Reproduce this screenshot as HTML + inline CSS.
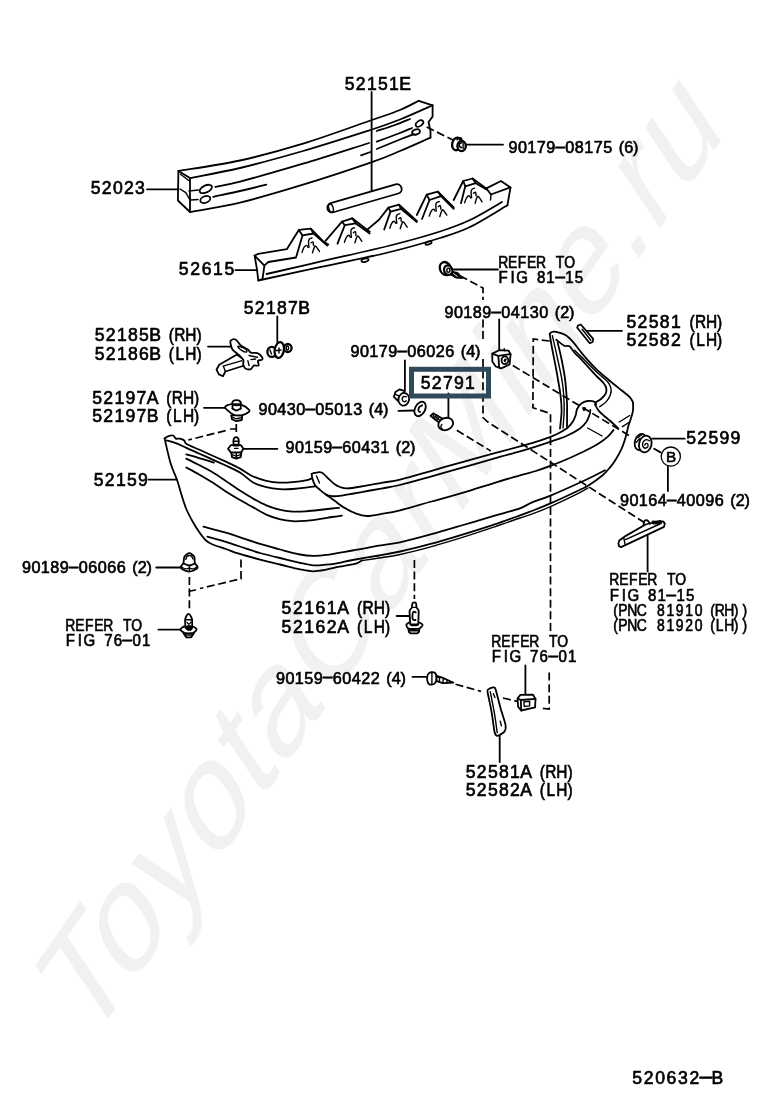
<!DOCTYPE html>
<html><head><meta charset="utf-8"><title>520632-B</title>
<style>
html,body{margin:0;padding:0;background:#fff}
svg{display:block}
.l{fill:none;stroke:#000;stroke-width:1.8;stroke-linecap:round;stroke-linejoin:round}
.lt{fill:none;stroke:#000;stroke-width:1.4;stroke-linecap:round;stroke-linejoin:round}
.f{fill:#fff;stroke:#000;stroke-width:1.8;stroke-linecap:round;stroke-linejoin:round}
.fh{fill:#fff;stroke:#000;stroke-width:2.3;stroke-linejoin:round}
.k{fill:#000;stroke:#000;stroke-width:1;stroke-linejoin:round}
.d{fill:none;stroke:#000;stroke-width:1.7;stroke-dasharray:8 3.6}
text{font-family:"Liberation Sans",sans-serif;fill:#000;white-space:pre}
.b,.s{stroke:#000;stroke-width:0.65px}
.b{font-size:17.6px}
.s{font-size:16.2px}
.wm{font-size:112px;fill:#f1f1f1}
.box{fill:none;stroke:#2f4a5b;stroke-width:5}
</style></head><body>
<svg width="760" height="1112" viewBox="0 0 760 1112">
<rect width="760" height="1112" fill="#fff"/>
<text class="wm" transform="scale(1,1.463) translate(87.3,716.6) rotate(-44.4)" textLength="894" lengthAdjust="spacing">ToyotaCarMine.ru</text>
<path class="l" d="M178.4 171.0 C188.7 169.2 219.2 165.1 240.0 160.5 C260.8 155.9 281.2 150.4 303.0 143.7 C324.8 137.0 354.3 126.1 370.5 120.5 C386.7 114.9 392.0 113.3 400.0 110.0 C408.0 106.7 415.6 102.3 418.7 100.8"/>
<path class="l" d="M190.0 178.0 C198.3 176.3 221.2 172.5 240.0 168.0 C258.8 163.5 281.2 157.3 303.0 151.0 C324.8 144.7 354.3 135.2 370.5 130.0 C386.7 124.8 389.6 123.6 400.0 119.5 C410.4 115.4 427.2 107.7 432.6 105.3"/>
<path class="l" d="M190.0 212.0 C198.3 210.4 221.2 207.2 240.0 202.6 C258.8 198.0 281.2 191.4 303.0 184.7 C324.8 178.0 354.3 168.2 370.5 162.6 C386.7 157.0 390.0 155.2 400.0 151.0 C410.0 146.8 425.4 139.8 430.5 137.6"/>
<path class="l" d="M190.0 178.0 L178.4 171.0 L177.9 200.5 L190.0 212.0 L190.0 178.0"/>
<path class="lt" d="M180.5 174.2 L189.5 181.0"/>
<path class="lt" d="M180.0 189.0 L185.8 192.6 L190.0 200.0"/>
<path class="l" d="M418.7 100.8 L432.6 105.3 L432.6 116.6 L428.5 122.0 L430.5 131.0 L430.5 137.6"/>
<path class="lt" d="M189.0 191.0 L198.4 190.0"/>
<path class="l" d="M215.3 186.8 C219.4 185.9 225.4 185.4 240.0 181.6 C254.6 177.8 281.5 170.1 303.0 163.7 C324.5 157.3 358.0 146.4 369.0 143.0"/>
<path class="l" d="M376.8 141.6 C380.7 140.2 394.1 135.3 400.0 133.0 C405.9 130.7 410.0 128.8 412.0 128.0"/>
<path class="lt" d="M191.0 200.0 L198.0 199.5"/>
<path class="l" d="M213.2 196.8 C217.7 195.8 231.2 193.0 240.0 191.0 C248.8 189.0 261.9 185.8 266.3 184.7"/>
<path class="l" d="M376.8 149.0 C380.7 147.4 393.8 142.0 400.0 139.5 C406.2 137.0 411.7 134.9 414.0 134.0"/>
<path class="l" d="M361.0 155.3 L370.5 152.0"/>
<path class="l" d="M376.8 131.0 C379.8 130.0 389.5 127.0 395.0 125.0 C400.5 123.0 407.5 120.0 410.0 119.0"/>
<ellipse class="l" cx="205.8" cy="189" rx="6.6" ry="3.5" transform="rotate(-25 205.8 189)"/>
<ellipse class="l" cx="205.3" cy="199.5" rx="5.2" ry="3.2" transform="rotate(-22 205.3 199.5)"/>
<ellipse class="l" cx="419.5" cy="123.5" rx="4.2" ry="2.6" transform="rotate(-35 419.5 123.5)"/>
<ellipse class="l" cx="416" cy="132" rx="4" ry="2.6" transform="rotate(-20 416 132)"/>
<path class="l" d="M147.0 189.3 L178.0 189.3"/>
<path class="l" d="M371.6 92.0 L371.6 192.0"/>
<g transform="rotate(-16.1 364 198.5)"><rect class="f" x="326" y="193.8" width="77" height="9.4" rx="4.7"/><ellipse class="lt" cx="329.6" cy="198.5" rx="2.2" ry="4.2"/></g>
<path class="l" d="M466.0 144.7 L503.0 144.7"/>
<path class="d" d="M426.6 127.0 L453.0 140.0"/>
<g><ellipse class="fh" cx="456.6" cy="143.9" rx="4.4" ry="6.4" transform="rotate(12 456.6 143.9)"/><path class="l" d="M457.2 139.6 C457.6 139.3 458.5 138.2 459.2 138.0 C459.9 137.9 461.2 138.2 461.6 138.8 C461.9 139.5 461.2 141.4 461.2 142.0"/><ellipse class="fh" cx="461.6" cy="146.0" rx="4.2" ry="5.1"/><path class="l" d="M461.2 142.8 C460.9 142.9 459.9 143.0 459.6 143.5 C459.3 144.1 459.1 145.7 459.4 146.3 C459.6 147.0 460.9 147.3 461.2 147.5"/><path class="lt" d="M463.1 142.0 L463.1 148.7"/></g>
<path class="l" d="M254.6 255.6 L258.3 253.8 L286.8 249.2 L298.8 229.9 L310.8 228.6 L323.7 241.8 L328.3 244.6"/>
<path class="l" d="M325.5 240.9 L342.0 221.6 L352.2 218.3 L369.7 231.7"/>
<path class="l" d="M367.0 229.9 L379.0 219.7 L388.4 207.6 L399.0 204.6 L416.8 221.0"/>
<path class="l" d="M416.8 215.0 L426.7 194.7 L437.9 191.6 L453.7 207.4"/>
<path class="l" d="M453.7 200.0 L463.2 181.0 L472.6 178.5 L486.3 188.4 L501.0 181.0 L510.5 187.4 L507.4 205.3"/>
<path class="l" d="M254.6 255.6 L264.4 265.6 L262.5 279.0 L258.3 280.5 L257.0 269.5 L254.6 255.6"/>
<path class="l" d="M264.4 265.4 L268.4 262.0 L296.0 257.5 L302.5 235.4"/>
<path class="l" d="M298.8 229.9 L302.5 235.4 L313.5 233.5 L310.8 228.6"/>
<path class="l" d="M313.5 233.5 L327.3 245.5"/>
<path class="lt" d="M302.0 252.4 C302.3 251.6 303.2 248.6 304.0 247.4 C304.8 246.3 305.8 245.4 306.5 245.4 C307.2 245.4 307.8 247.1 308.0 247.4"/>
<path class="lt" d="M312.5 252.9 C312.8 251.9 313.9 248.0 314.5 246.9 C315.1 245.9 315.2 245.7 316.0 246.4 C316.8 247.2 318.9 250.6 319.5 251.4"/>
<path class="lt" d="M309.0 247.4 C308.9 246.4 308.4 242.9 308.5 241.4 C308.6 240.0 308.9 239.5 309.5 238.9 C310.1 238.4 311.6 238.1 312.0 237.9"/>
<path class="lt" d="M311.0 242.9 C311.3 242.8 312.6 241.5 313.0 241.9 C313.4 242.4 313.4 244.9 313.5 245.4"/>
<path class="l" d="M342.0 221.6 L344.8 225.2 L355.9 223.4 L352.2 218.3"/>
<path class="l" d="M344.8 225.2 L337.5 243.7"/>
<path class="l" d="M355.9 223.4 L369.7 233.5"/>
<path class="lt" d="M344.4 242.3 C344.7 241.5 345.6 238.5 346.4 237.3 C347.1 236.1 348.2 235.3 348.9 235.3 C349.5 235.3 350.1 237.0 350.4 237.3"/>
<path class="lt" d="M354.9 242.8 C355.2 241.8 356.3 237.9 356.9 236.8 C357.4 235.7 357.5 235.6 358.4 236.3 C359.2 237.1 361.3 240.5 361.9 241.3"/>
<path class="lt" d="M351.4 237.3 C351.3 236.3 350.8 232.7 350.9 231.3 C350.9 229.9 351.3 229.4 351.9 228.8 C352.4 228.2 353.9 228.0 354.4 227.8"/>
<path class="lt" d="M353.4 232.8 C353.7 232.6 354.9 231.4 355.4 231.8 C355.8 232.2 355.8 234.7 355.9 235.3"/>
<path class="l" d="M388.4 207.6 L390.5 211.6 L401.0 208.8 L399.0 204.6"/>
<path class="l" d="M390.5 211.6 L384.2 229.5"/>
<path class="l" d="M401.0 208.8 L416.8 222.0"/>
<path class="lt" d="M389.8 228.2 C390.1 227.4 391.0 224.4 391.8 223.2 C392.5 222.0 393.6 221.2 394.2 221.2 C394.9 221.2 395.5 222.9 395.8 223.2"/>
<path class="lt" d="M400.2 228.7 C400.6 227.7 401.7 223.8 402.2 222.7 C402.8 221.6 402.9 221.4 403.8 222.2 C404.6 222.9 406.7 226.4 407.2 227.2"/>
<path class="lt" d="M396.8 223.2 C396.7 222.2 396.2 218.6 396.2 217.2 C396.3 215.8 396.7 215.3 397.2 214.7 C397.8 214.1 399.3 213.9 399.8 213.7"/>
<path class="lt" d="M398.8 218.7 C399.1 218.5 400.3 217.3 400.8 217.7 C401.2 218.1 401.2 220.6 401.2 221.2"/>
<path class="l" d="M426.7 194.7 L429.5 200.0 L441.0 196.2 L437.9 191.6"/>
<path class="l" d="M429.5 200.0 L422.0 219.0"/>
<path class="l" d="M441.0 196.2 L453.7 208.8"/>
<path class="lt" d="M429.2 216.1 C429.6 215.3 430.5 212.3 431.2 211.1 C432.0 209.9 433.1 209.1 433.8 209.1 C434.4 209.1 435.0 210.8 435.2 211.1"/>
<path class="lt" d="M439.8 216.6 C440.1 215.6 441.2 211.7 441.8 210.6 C442.3 209.5 442.4 209.3 443.2 210.1 C444.1 210.8 446.2 214.3 446.8 215.1"/>
<path class="lt" d="M436.2 211.1 C436.2 210.1 435.7 206.5 435.8 205.1 C435.8 203.7 436.2 203.2 436.8 202.6 C437.3 202.0 438.8 201.8 439.2 201.6"/>
<path class="lt" d="M438.2 206.6 C438.6 206.4 439.8 205.2 440.2 205.6 C440.7 206.0 440.7 208.5 440.8 209.1"/>
<path class="l" d="M463.2 181.0 L465.3 186.3 L475.8 183.2 L472.6 178.5"/>
<path class="l" d="M465.3 186.3 L461.0 203.2"/>
<path class="l" d="M475.8 183.2 L486.3 189.5"/>
<path class="lt" d="M464.6 202.8 C464.9 201.9 465.8 198.9 466.6 197.8 C467.3 196.6 468.4 195.8 469.1 195.8 C469.7 195.8 470.3 197.4 470.6 197.8"/>
<path class="lt" d="M475.1 203.2 C475.4 202.2 476.5 198.3 477.1 197.2 C477.6 196.2 477.7 196.0 478.6 196.8 C479.4 197.5 481.5 200.9 482.1 201.8"/>
<path class="lt" d="M471.6 197.8 C471.5 196.8 471.0 193.2 471.1 191.8 C471.1 190.3 471.5 189.8 472.1 189.2 C472.6 188.7 474.1 188.4 474.6 188.2"/>
<path class="lt" d="M473.6 193.2 C473.9 193.1 475.1 191.8 475.6 192.2 C476.0 192.7 476.0 195.2 476.1 195.8"/>
<path class="l" d="M486.3 188.4 L491.0 194.5 L510.5 187.4"/>
<path class="lt" d="M491.0 194.5 L490.5 200.0"/>
<path class="l" d="M266.6 274.0 C275.5 271.9 299.4 266.4 320.0 261.7 C340.6 256.9 370.0 250.5 390.0 245.5 C410.0 240.5 426.7 235.8 440.0 231.5 C453.3 227.2 459.7 224.9 470.0 220.0 C480.3 215.1 496.7 205.0 502.0 202.0"/>
<path class="l" d="M258.3 280.5 C268.6 278.3 298.1 271.9 320.0 267.1 C341.9 262.4 370.0 256.9 390.0 252.0 C410.0 247.2 426.7 242.2 440.0 238.0 C453.3 233.8 458.8 232.4 470.0 227.0 C481.2 221.6 501.2 208.9 507.4 205.3"/>
<path class="l" d="M235.5 270.2 L256.5 270.2"/>
<ellipse class="l" cx="365" cy="260.3" rx="3.6" ry="1.6" transform="rotate(-12 365 260.3)"/>
<ellipse class="l" cx="428.5" cy="243" rx="3.2" ry="1.5" transform="rotate(-17 428.5 243)"/>
<path class="l" d="M453.7 269.5 L498.0 269.5"/>
<path class="d" d="M460.0 275.8 L483.0 288.0 L483.0 300.0"/>
<path class="d" d="M483.0 319.5 L483.0 339.5"/>
<path class="d" d="M483.0 359.0 L483.0 417.5 L487.5 421.8 L645.0 523.0"/>
<g><path class="k" d="M450.9 271.3 L458.0 272.5 L462.8 278.4 L456.0 278.0 L450.1 274.5Z"/><path class="lt" d="M453.7 273.7 L457.2 276.4" style="stroke:#fff;stroke-width:1"/><ellipse class="fh" cx="445.4" cy="268.6" rx="5.4" ry="6.8" transform="rotate(-25 445.4 268.6)"/><ellipse class="fh" cx="448.2" cy="270.2" rx="4.0" ry="4.8" transform="rotate(-25 448.2 270.2)"/><ellipse class="lt" cx="448.4" cy="270.3" rx="1.6" ry="2.0"/></g>
<path class="l" d="M164.6 438.6 C165.6 442.7 168.4 456.0 170.5 462.9 C172.6 469.8 175.3 474.9 177.1 480.0 C178.8 485.1 179.5 488.4 181.0 493.2 C182.5 498.0 184.3 504.2 186.3 509.0 C188.3 513.8 190.7 518.1 192.9 522.0 C195.1 525.9 197.3 529.5 199.5 532.6 C201.7 535.7 203.8 538.5 206.0 540.5 C208.2 542.5 209.3 543.1 212.6 544.5 C215.9 545.9 221.4 547.5 225.8 549.0 C230.2 550.5 233.3 551.9 239.0 553.7 C244.7 555.5 253.2 557.8 260.0 559.6 C266.8 561.4 273.3 562.9 280.0 564.5 C286.7 566.1 294.5 568.2 300.0 569.3 C305.5 570.4 308.8 571.2 313.2 571.3 C317.6 571.3 321.9 570.4 326.3 569.6 C330.7 568.8 334.4 567.7 339.5 566.7 C344.6 565.7 352.9 564.5 356.6 563.4 C360.3 562.3 360.9 560.8 361.8 560.3"/>
<path class="lt" d="M361.8 560.6 C364.7 560.2 372.6 559.0 379.0 558.0 C385.4 557.0 391.2 556.4 400.0 554.5 C408.8 552.6 421.1 549.5 431.6 546.6 C442.1 543.7 452.7 540.5 463.2 537.2 C473.7 533.9 485.2 530.0 494.7 526.8 C504.2 523.6 513.9 520.1 520.0 518.0 C526.1 515.9 526.5 516.1 531.6 514.2 C536.7 512.3 543.1 509.9 550.5 506.6 C557.9 503.4 569.5 497.8 575.8 494.7 C582.0 491.6 586.0 489.1 588.0 488.0"/>
<path class="l" d="M300.0 562.8 C302.2 563.2 308.8 565.1 313.2 565.4 C317.6 565.7 321.9 565.1 326.3 564.7 C330.7 564.3 335.1 563.6 339.5 562.8 C343.9 562.0 346.0 561.2 352.6 560.0 C359.2 558.8 371.1 556.9 379.0 555.5 C386.9 554.1 391.2 553.5 400.0 551.5 C408.8 549.5 421.1 546.6 431.6 543.7 C442.1 540.9 452.7 537.6 463.2 534.4 C473.7 531.2 485.2 527.6 494.7 524.4 C504.2 521.2 513.9 517.6 520.0 515.4 C526.1 513.2 526.5 513.0 531.6 511.0 C536.7 509.0 542.6 506.9 550.5 503.4 C558.4 499.9 572.7 493.2 579.0 490.2 C585.3 487.2 584.5 488.1 588.4 485.6 C592.3 483.1 598.9 478.3 602.6 475.2 C606.3 472.1 608.4 469.3 610.5 466.8 C612.6 464.3 613.4 463.4 615.3 460.3 C617.2 457.2 620.0 452.3 621.8 448.4 C623.5 444.4 624.7 440.3 625.8 436.6 C626.9 432.9 627.5 429.1 628.4 426.0 C629.3 422.9 630.2 420.8 631.0 418.2 C631.8 415.6 632.7 412.9 633.0 410.3 C633.3 407.7 633.0 403.7 633.0 402.4"/>
<path class="l" d="M207.4 536.6 C210.5 537.5 219.5 539.8 225.8 541.8 C232.2 543.8 239.8 546.5 245.5 548.4 C251.2 550.3 254.2 551.4 260.0 553.0 C265.8 554.6 273.3 556.4 280.0 558.0 C286.7 559.6 296.7 562.0 300.0 562.8"/>
<path class="l" d="M203.4 526.7 C207.1 527.7 218.8 530.5 225.8 532.6 C232.8 534.7 239.8 537.3 245.5 539.2 C251.2 541.1 254.2 542.1 260.0 543.8 C265.8 545.5 273.3 547.7 280.0 549.5 C286.7 551.3 294.5 553.5 300.0 554.5 C305.5 555.5 308.8 555.7 313.2 555.8 C317.6 555.9 319.7 555.8 326.3 554.9 C332.9 554.0 343.8 552.0 352.6 550.5 C361.4 549.0 371.1 547.1 379.0 545.7 C386.9 544.3 391.2 544.2 400.0 542.3 C408.8 540.4 421.1 537.1 431.6 534.2 C442.1 531.3 452.7 528.1 463.2 525.0 C473.7 521.9 485.2 518.4 494.7 515.6 C504.2 512.8 513.9 510.5 520.0 508.3 C526.1 506.1 526.5 504.7 531.6 502.6 C536.7 500.5 542.6 498.9 550.5 495.6 C558.4 492.3 571.6 486.4 579.0 483.0 C586.4 479.6 590.4 477.6 594.7 475.5 C599.0 473.4 603.3 471.2 605.0 470.3"/>
<path class="l" d="M164.6 438.6 C165.2 438.2 166.5 436.8 167.9 436.3 C169.3 435.8 171.9 435.1 173.2 435.5 C174.5 435.9 174.7 438.1 175.8 438.6 C176.9 439.1 178.3 438.3 179.7 438.6 C181.1 438.9 183.2 439.6 184.3 440.5 C185.4 441.4 183.8 442.2 186.3 443.8 C188.8 445.4 195.1 447.8 199.5 449.8 C203.9 451.8 208.2 453.7 212.6 455.7 C217.0 457.7 221.2 459.5 225.8 461.6 C230.4 463.8 235.4 466.1 240.0 468.6 C244.6 471.1 248.8 474.5 253.2 476.5 C257.6 478.5 261.9 479.8 266.3 480.8 C270.7 481.8 275.1 482.4 279.5 482.6 C283.9 482.8 288.2 482.5 292.6 482.1 C297.0 481.7 302.6 481.0 305.8 480.4 C309.0 479.8 310.7 478.7 311.7 478.4"/>
<path class="l" d="M166.6 440.5 C168.1 440.9 172.5 442.0 175.8 443.2 C179.1 444.4 182.4 446.1 186.3 447.8 C190.2 449.6 195.1 451.7 199.5 453.7 C203.9 455.7 208.2 457.6 212.6 459.6 C217.0 461.6 221.2 463.4 225.8 465.5 C230.4 467.6 235.4 469.7 240.0 472.5 C244.6 475.3 248.8 480.1 253.2 482.5 C257.6 484.9 261.9 486.1 266.3 487.2 C270.7 488.3 275.1 488.9 279.5 489.2 C283.9 489.5 288.2 489.3 292.6 489.0 C297.0 488.7 302.1 488.1 305.8 487.6 C309.5 487.2 313.5 486.5 315.0 486.3"/>
<path class="l" d="M186.3 454.3 C188.6 455.0 195.4 456.9 200.0 458.3 C204.6 459.7 211.7 461.9 214.0 462.6"/>
<path class="l" d="M186.3 458.6 C188.5 459.7 195.1 462.9 199.5 465.2 C203.9 467.5 208.2 469.7 212.6 472.3 C217.0 474.9 221.2 477.9 225.8 481.0 C230.4 484.1 235.4 487.7 240.0 490.6 C244.6 493.5 248.8 496.2 253.2 498.6 C257.6 501.1 261.9 503.5 266.3 505.3 C270.7 507.1 275.1 508.6 279.5 509.7 C283.9 510.8 288.2 511.3 292.6 511.6 C297.0 511.9 301.4 511.6 305.8 511.3 C310.2 511.0 314.6 510.5 319.0 510.0 C323.4 509.5 328.6 508.9 332.0 508.5 C335.4 508.1 338.0 507.9 339.2 507.8"/>
<path class="l" d="M186.3 467.5 C188.5 468.7 195.1 472.2 199.5 474.7 C203.9 477.2 208.2 479.8 212.6 482.6 C217.0 485.4 221.2 488.6 225.8 491.5 C230.4 494.4 235.4 497.4 240.0 500.0 C244.6 502.6 248.8 505.0 253.2 507.4 C257.6 509.8 261.9 512.6 266.3 514.6 C270.7 516.6 275.1 518.1 279.5 519.2 C283.9 520.3 288.2 520.9 292.6 521.2 C297.0 521.5 301.4 521.1 305.8 520.8 C310.2 520.5 314.6 519.8 319.0 519.2 C323.4 518.6 328.2 517.6 332.0 517.0 C335.8 516.4 340.2 515.9 341.8 515.7"/>
<path class="l" d="M311.7 473.8 C312.2 473.6 313.4 473.1 315.0 472.9 C316.6 472.7 319.2 471.4 321.6 472.5 C324.0 473.6 327.3 477.7 329.5 479.7 C331.7 481.7 332.9 483.1 334.7 484.3 C336.4 485.5 337.9 486.3 340.0 487.0 C342.1 487.7 343.3 488.5 347.1 488.4 C350.9 488.3 357.0 487.2 362.9 486.2 C368.8 485.2 376.4 483.7 382.6 482.6 C388.8 481.5 391.8 481.7 400.0 479.7 C408.2 477.7 421.1 473.8 431.6 470.8 C442.1 467.8 452.7 464.7 463.2 461.8 C473.7 458.9 485.2 455.8 494.7 453.2 C504.2 450.6 513.1 448.3 520.0 446.4 C526.9 444.5 530.5 443.5 535.8 441.8 C541.1 440.1 547.6 437.9 551.6 436.3 C555.6 434.8 557.3 434.0 560.0 432.5 C562.7 431.0 565.7 429.4 567.9 427.5 C570.1 425.6 571.9 423.1 573.2 421.0 C574.5 418.9 575.1 416.8 575.8 414.8 C576.4 412.8 576.2 410.9 577.1 409.0 C578.0 407.1 579.2 405.0 581.0 403.7 C582.8 402.4 585.4 401.3 587.6 401.0 C589.8 400.7 592.8 401.1 594.2 401.7 C595.6 402.2 595.9 403.9 596.2 404.3"/>
<path class="l" d="M311.7 473.8 C311.8 474.6 311.8 476.5 312.4 478.4 C312.9 480.3 313.9 483.2 315.0 485.0 C316.1 486.8 317.2 487.5 319.0 489.0 C320.8 490.5 323.3 493.0 325.5 494.2 C327.7 495.4 329.1 496.0 332.0 496.2 C334.9 496.4 338.1 496.0 343.2 495.3 C348.3 494.6 356.3 493.0 362.9 491.8 C369.5 490.6 376.4 489.4 382.6 488.3 C388.8 487.2 391.8 487.0 400.0 485.0 C408.2 483.0 421.1 479.3 431.6 476.4 C442.1 473.5 452.7 470.4 463.2 467.4 C473.7 464.4 485.2 461.1 494.7 458.4 C504.2 455.7 513.1 453.4 520.0 451.4 C526.9 449.4 530.5 448.3 535.8 446.6 C541.1 444.9 546.3 443.2 551.6 441.4 C556.9 439.5 562.7 437.7 567.4 435.5 C572.1 433.3 576.9 430.6 580.0 428.4 C583.1 426.1 584.7 424.3 586.3 422.0 C587.9 419.7 588.9 416.5 589.6 414.5 C590.3 412.5 590.2 410.8 590.3 410.0"/>
<path class="lt" d="M316.5 476.0 C317.0 477.2 319.0 481.8 319.5 483.0"/>
<path class="l" d="M325.5 494.2 C327.0 495.3 331.8 498.6 334.7 500.8 C337.6 503.0 339.6 505.0 343.2 507.1 C346.8 509.2 352.4 512.2 356.3 513.7 C360.2 515.2 362.4 516.0 366.8 516.0 C371.2 516.0 377.1 514.7 382.6 513.7 C388.1 512.8 391.8 512.3 400.0 510.3 C408.2 508.3 421.1 504.4 431.6 501.5 C442.1 498.6 452.7 495.8 463.2 492.7 C473.7 489.6 485.2 485.7 494.7 482.8 C504.2 479.9 513.1 477.4 520.0 475.4 C526.9 473.4 530.5 472.7 535.8 471.0 C541.1 469.3 546.3 467.4 551.6 465.4 C556.9 463.4 562.1 461.3 567.4 459.0 C572.7 456.7 577.9 454.4 583.2 451.8 C588.5 449.2 594.8 446.0 599.0 443.3 C603.2 440.6 606.2 438.0 608.6 435.8 C611.0 433.6 612.7 431.0 613.5 430.0"/>
<path class="l" d="M594.9 404.3 C595.7 405.5 597.0 408.9 599.5 411.6 C602.0 414.4 606.9 418.1 610.0 420.8 C613.1 423.5 616.6 426.8 617.9 428.0"/>
<path class="lt" d="M587.6 428.0 L602.1 436.0"/>
<path class="lt" d="M619.2 422.0 L629.7 415.5"/>
<path class="lt" d="M622.5 426.7 L629.7 422.0"/>
<ellipse class="k" cx="584.3" cy="409" rx="1" ry="1.6" transform="rotate(30 584.3 409)"/>
<path class="l" d="M549.7 333.8 C550.0 335.9 550.6 340.3 551.7 346.3 C552.8 352.3 554.9 362.1 556.3 370.0 C557.7 377.9 559.4 387.0 560.3 393.7 C561.2 400.4 561.6 404.2 561.6 410.0 C561.6 415.8 560.3 425.4 560.0 428.5"/>
<path class="lt" d="M552.4 335.8 C553.0 338.6 554.8 345.9 556.3 352.9 C557.8 359.9 560.4 371.1 561.6 377.9 C562.8 384.7 563.2 388.3 563.6 393.7 C564.0 399.1 564.3 404.3 564.2 410.0 C564.1 415.7 563.2 425.0 563.0 428.0"/>
<path class="l" d="M557.6 342.4 C558.3 345.2 560.4 353.6 561.6 359.5 C562.8 365.4 564.0 371.3 564.9 377.9 C565.8 384.5 566.4 393.6 566.8 399.0 C567.2 404.4 567.1 405.3 567.1 410.0 C567.1 414.7 567.0 424.2 567.0 427.0"/>
<path class="l" d="M549.7 333.8 C550.1 333.5 550.9 332.3 552.0 332.0 C553.1 331.7 554.0 331.3 556.3 331.8 C558.5 332.3 562.6 333.3 565.5 335.1 C568.4 336.9 570.5 339.2 573.4 342.4 C576.2 345.6 578.9 349.8 582.6 354.2 C586.3 358.6 591.4 364.4 595.8 368.7 C600.2 373.0 604.7 376.6 609.0 380.2 C613.3 383.8 618.3 387.7 621.8 390.5 C625.2 393.3 627.8 395.1 629.7 397.1 C631.6 399.1 632.5 401.5 633.0 402.4"/>
<path class="l" d="M556.3 339.7 C557.6 340.7 562.0 344.6 564.2 345.7 C566.4 346.8 567.8 345.1 569.5 346.3 C571.2 347.5 572.5 350.5 574.7 352.9 C576.9 355.3 579.1 357.1 582.6 360.8 C586.1 364.5 592.3 371.6 595.8 375.3 C599.3 379.0 602.0 381.0 603.7 383.2 C605.5 385.4 606.0 386.6 606.3 388.4 C606.6 390.1 606.6 391.9 605.7 393.7 C604.8 395.5 602.6 397.6 601.0 399.0 C599.4 400.4 596.7 401.7 595.8 402.2"/>
<path class="lt" d="M574.7 350.3 C576.0 351.6 579.1 354.5 582.6 358.0 C586.1 361.5 591.6 367.3 595.8 371.3 C600.0 375.3 605.1 379.0 607.6 381.8 C610.1 384.6 610.5 386.2 611.0 388.4 C611.5 390.6 611.1 392.8 610.3 395.0 C609.5 397.2 608.1 399.6 606.3 401.6 C604.5 403.6 600.8 405.9 599.7 406.8"/>
<path class="d" d="M549.7 341.0 L533.3 339.0 L532.9 407.7 L550.5 413.5 L550.5 633.0"/>
<path class="d" d="M549.2 672.6 L549.2 709.0 L539.7 708.0"/>
<path class="l" d="M148.5 479.7 L176.4 479.7"/>
<path class="l" d="M208.0 346.6 L231.0 346.6"/>
<g><path class="f" d="M219.2 364.7 L216.5 369.7 L218.9 374.4 L223.0 376.2 L225.4 371.5 L244.4 365.5 L245.5 360.8 L237.0 354.5Z"/><path class="f" d="M230.7 340.7 C231.5 339.9 233.8 338.7 235.5 339.5 C237.2 340.3 238.7 343.7 240.8 345.4 C242.9 347.1 246.2 348.3 247.9 349.5 C249.6 350.8 249.3 352.2 250.9 352.7 C252.5 353.3 255.5 352.4 257.4 353.1 C259.3 353.9 261.4 356.1 262.1 357.3 C262.9 358.4 262.6 359.3 261.9 359.9 C261.2 360.5 258.5 359.9 258.0 360.8 C257.4 361.8 259.3 364.8 258.6 365.5 C257.9 366.3 255.1 365.0 253.8 365.5 C252.6 366.1 252.3 368.6 250.9 369.1 C249.5 369.6 246.8 369.3 245.5 368.5 C244.3 367.7 243.6 365.8 243.2 364.4 C242.8 362.9 244.2 361.4 243.2 359.6 C242.2 357.8 239.0 355.4 237.3 353.7 C235.5 352.0 233.6 351.1 232.5 349.5 C231.4 348.0 231.0 345.7 230.7 344.2 C230.4 342.7 229.9 341.5 230.7 340.7Z"/><path class="lt" d="M223.0 366.1 L242.0 360.6"/><path class="lt" d="M223.6 366.7 L225.4 371.5"/><path class="lt" d="M237.8 346.6 C238.1 347.3 240.5 349.8 242.0 350.7 C243.5 351.6 246.1 352.2 246.7 351.9 C247.3 351.6 246.6 349.8 245.5 349.0 C244.5 348.1 241.5 347.0 240.2 346.6 C238.9 346.2 237.5 345.9 237.8 346.6Z"/><path class="lt" d="M249.1 355.5 L257.4 357.3"/><path class="lt" d="M250.9 359.6 L255.6 359.0"/><path class="lt" d="M247.9 360.8 L249.1 365.5"/></g>
<path class="l" d="M277.3 316.5 L277.3 342.0"/>
<g><ellipse class="fh" cx="287.8" cy="348.0" rx="3.8" ry="4.0"/><ellipse class="lt" cx="287.4" cy="348.0" rx="1.2" ry="2.0"/><ellipse class="fh" cx="271.8" cy="351.9" rx="4.4" ry="5.0"/><ellipse class="fh" cx="279.3" cy="350.0" rx="4.6" ry="8.0" transform="rotate(10 279.3 350.0)"/><path class="lt" d="M270 350 L271.5 354 M276.5 350.5 L281 350 M279 348 L279 353"/></g>
<path class="l" d="M204.0 407.8 L225.3 407.8"/>
<g><path class="f" d="M231.2 415.3 L232.0 419.2 L236.3 421.2 L241.8 420.0 L242.2 415.3Z"/><path class="lt" d="M232.0 417.2 L236.3 418.8 L241.8 417.6"/><path class="f" d="M225.3 406.6 C226.1 405.7 229.3 404.5 232.0 404.2 C234.6 403.9 238.2 403.7 241.0 404.6 C243.9 405.5 247.8 408.4 248.9 409.7 C250.1 411.0 249.5 411.6 248.1 412.5 C246.8 413.4 243.5 414.9 241.0 415.3 C238.5 415.6 235.5 415.4 233.2 414.5 C230.8 413.5 228.2 411.0 226.8 409.7 C225.5 408.4 224.4 407.5 225.3 406.6Z"/><path class="f" d="M232.5 402.6 L232.5 408.5"/><path class="f" d="M240.7 402.6 L240.7 408.5"/><ellipse class="f" cx="236.5" cy="402.8" rx="4.1" ry="2.6"/><path class="l" d="M232.5 408.5 C233.2 408.9 235.0 410.5 236.3 410.5 C237.7 410.5 239.9 408.9 240.7 408.5"/><path class="lt" d="M234.3 404.0 L238.7 404.0"/></g>
<path class="d" d="M236.3 424.0 L236.3 434.0"/>
<path class="lt" d="M236.3 429.0 L230.5 429.0"/>
<path class="d" d="M225.6 430.6 L188.3 440.0"/>
<path class="l" d="M243.4 448.8 L277.4 448.8"/>
<g><path class="f" d="M231.2 452.4 L232.0 457.1 L236.3 458.7 L240.7 457.1 L241.4 452.4Z"/><path class="lt" d="M232.0 454.7 L236.3 456.1 L240.7 454.7"/><path class="lt" d="M236.3 452.4 L236.3 458.5"/><path class="f" d="M228.0 448.8 L230.8 445.2 L241.0 445.2 L243.4 448.8 L241.0 452.4 L230.8 452.4Z"/><path class="f" d="M233.7 445.6 C233.7 444.7 233.1 441.1 233.5 439.7 C234.0 438.3 235.3 437.2 236.2 437.2 C237.0 437.2 238.3 438.3 238.7 439.7 C239.1 441.1 238.5 444.7 238.5 445.6Z"/><path class="lt" d="M233.9 441.3 L238.5 441.3"/><path class="lt" d="M233.9 444.5 L238.5 444.5"/><path class="lt" d="M234.6 448.4 L237.9 448.4"/></g>
<path class="l" d="M404.9 360.4 L404.9 391.0"/>
<g><path class="f" d="M395.4 391.9 L399.4 389.4 L404.3 390.9 L402.8 401.8 L397.9 400.8 L393.9 396.8Z"/><path class="lt" d="M395.4 394.4 L398.9 395.9 L397.9 399.8"/><ellipse class="f" cx="403.8" cy="399.3" rx="5.3" ry="6.4" transform="rotate(12 403.8 399.3)"/><path class="lt" d="M406.3 396.8 C405.8 396.8 404.0 396.2 403.3 396.6 C402.6 397.1 402.1 399.0 402.3 399.8 C402.5 400.7 403.6 401.6 404.3 401.8 C404.9 401.9 405.9 401.0 406.3 400.8"/></g>
<path class="l" d="M398.4 410.9 L414.2 410.5"/>
<g><ellipse class="f" cx="420.1" cy="408.9" rx="5.0" ry="7.7" transform="rotate(28 420.1 408.9)"/><path class="l" d="M422.1 405.2 C421.6 405.6 419.7 406.3 419.1 407.2 C418.5 408.1 418.4 410.0 418.6 410.9 C418.8 411.7 419.8 411.9 420.1 412.1"/></g>
<path class="l" d="M448.4 393.5 L448.4 418.0"/>
<g><path class="f" d="M430.4 415.8 L433.2 413.3 L443.3 419.1 L439.8 423.3Z"/><path class="lt" d="M432.9 414.6 L434.9 418.1"/><path class="lt" d="M435.4 415.8 L437.4 419.6"/><path class="lt" d="M437.9 417.2 L439.5 420.7"/><ellipse class="f" cx="445.7" cy="424.0" rx="7.6" ry="6.0" transform="rotate(-20 445.7 424.0)"/><path class="lt" d="M441.8 424.5 C441.6 424.9 440.7 426.2 440.8 427.0 C440.9 427.7 442.0 428.6 442.3 428.9"/></g>
<path class="d" d="M456.8 430.3 L490.8 451.0"/>
<path class="l" d="M499.2 319.5 L499.2 350.5"/>
<g><path class="f" d="M492.3 353.6 L499.2 350.2 L508.6 350.7 L510.6 354.1 L509.6 364.5 L501.2 368.4 L495.8 366.5 L492.3 361.5Z"/><path class="l" d="M492.3 353.6 L498.3 355.8 L510.6 354.1"/><path class="l" d="M498.3 355.8 L499.2 367.6"/><path class="lt" d="M504.2 348.7 L504.7 350.9"/><ellipse class="l" cx="504.9" cy="360.3" rx="3.4" ry="3.9"/><path class="k" d="M506.7 359.1 C506.3 359.1 505.1 358.7 504.7 359.1 C504.2 359.4 503.9 360.5 504.0 361.0 C504.1 361.6 505.2 362.1 505.5 362.3"/></g>
<path class="d" d="M512.8 365.5 L629.0 435.5"/>
<path class="l" d="M585.8 330.8 L622.0 330.8"/>
<g><path class="f" d="M577.2 327.8 L577.9 325.5 L580.8 324.5 L593.2 338.9 L592.6 342.0 L589.7 343.3Z"/><path class="lt" d="M582.1 329.2 L590.8 340.3"/></g>
<path class="l" d="M652.1 438.7 L684.7 438.7"/>
<g><ellipse class="f" cx="640.5" cy="442.0" rx="5.6" ry="8.2" transform="rotate(18 640.5 442.0)"/><ellipse class="f" cx="645.3" cy="444.0" rx="6.2" ry="8.5" transform="rotate(14 645.3 444.0)"/><path class="lt" d="M637.6 437.6 C638.2 437.2 640.9 435.4 641.6 435.0"/><path class="lt" d="M636.3 442.4 C636.9 441.7 639.4 438.9 640.0 438.2"/><path class="lt" d="M649.5 440.8 C648.9 440.6 646.9 439.3 645.8 439.7 C644.6 440.2 643.0 442.1 642.6 443.4 C642.3 444.7 643.0 446.9 643.7 447.6 C644.4 448.3 646.1 448.1 646.8 447.6 C647.6 447.2 648.2 445.7 648.1 445.0 C648.0 444.3 646.9 443.4 646.3 443.4 C645.8 443.4 645.0 444.7 644.7 445.0"/></g>
<path class="l" d="M654.2 448.7 L660.5 452.4"/>
<circle class="l" cx="670.8" cy="456.6" r="9.6" style="stroke-width:1.3"/>
<path class="l" d="M667.9 466.4 L667.9 491.0"/>
<path class="l" d="M647.6 534.6 L647.6 571.4"/>
<g><path class="f" d="M618.4 543.2 L619.3 540.5 L624.9 536.4 L645.6 524.5 L659.2 521.0 L663.4 521.6 L664.8 523.7 L664.0 526.9 L621.1 547.1 L619.0 546.2Z"/><path class="lt" d="M625.5 539.6 L659.8 524.0"/><path class="lt" d="M623.7 537.6 L625.1 544.7"/><path class="k" d="M652.1 521.1 L661.8 521.4 L661.4 523.7 L652.7 524.0Z"/><path class="l" d="M643.6 524.2 C643.7 523.7 643.8 521.6 644.4 521.0 C645.1 520.4 646.5 519.9 647.4 520.4 C648.3 520.9 649.6 523.2 650.0 523.7"/></g>
<path class="l" d="M156.2 567.5 L180.8 567.5"/>
<g><path class="f" d="M180.8 566.6 C181.1 565.9 183.0 564.3 183.5 563.0 C184.0 561.7 183.6 558.0 184.4 556.7 C185.2 555.4 188.0 553.1 189.4 553.1 C190.7 553.1 193.6 555.4 194.3 556.7 C195.0 558.0 194.3 561.7 194.8 563.0 C195.2 564.3 197.2 565.9 197.5 566.6 C197.8 567.3 197.6 568.0 197.0 568.6 C196.4 569.1 194.0 570.3 193.0 570.7 C191.9 571.0 190.4 571.6 189.4 571.6 C188.3 571.6 186.3 571.0 185.3 570.7 C184.3 570.3 182.1 569.1 181.5 568.6 C180.9 568.0 180.5 567.3 180.8 566.6Z"/><path class="l" d="M183.5 563.5 C184.5 563.8 187.5 565.5 189.4 565.5 C191.2 565.5 193.9 563.8 194.8 563.5"/><path class="lt" d="M189.4 565.5 L189.4 571.1"/><path class="lt" d="M181.7 567.1 C182.3 567.4 184.0 568.7 185.3 568.9 C186.6 569.0 188.0 568.2 189.4 568.2 C190.7 568.2 192.2 569.0 193.4 568.9 C194.6 568.7 196.3 567.4 196.8 567.1"/><path class="lt" d="M185.8 559.4 C186.0 558.9 186.2 556.9 187.1 556.3 C188.0 555.7 190.2 555.4 191.2 555.8 C192.1 556.3 192.7 558.4 193.0 559.0"/></g>
<path class="d" d="M189.4 577.0 L189.4 611.0"/>
<path class="lt" d="M189.4 591.3 L195.5 590.0"/>
<path class="d" d="M241.0 559.5 L241.0 578.8 L200.0 588.5"/>
<path class="l" d="M158.4 629.6 L180.4 629.6"/>
<g><path class="f" d="M183.5 633.2 L186.2 637.3 L191.2 637.3 L193.9 633.2Z"/><path class="f" d="M180.4 629.6 C180.4 628.8 182.7 626.9 184.4 626.5 C186.1 626.0 191.3 626.0 193.0 626.5 C194.6 626.9 196.6 628.8 196.6 629.6 C196.6 630.4 194.6 632.3 193.0 632.8 C191.3 633.2 186.1 633.2 184.4 632.8 C182.7 632.3 180.4 630.4 180.4 629.6Z"/><path class="f" d="M185.5 627.8 C185.5 626.3 184.8 621.1 185.3 618.8 C185.8 616.5 187.4 613.9 188.5 613.9 C189.5 613.9 191.3 616.5 191.9 618.8 C192.5 621.1 192.0 626.3 192.1 627.8"/><path class="lt" d="M185.8 619.7 L191.9 619.7"/><path class="lt" d="M184.9 635.0 L192.5 635.0"/><path class="k" d="M186.7 626.0 C185.8 626.5 185.8 628.4 186.2 629.2 C186.7 629.9 188.4 630.5 189.4 630.5 C190.3 630.5 191.7 629.9 192.1 629.2 C192.4 628.4 192.5 626.5 191.6 626.0 C190.7 625.5 187.6 625.5 186.7 626.0Z"/><path class="lt" d="M187.1 622.4 C187.4 622.7 188.3 624.2 188.9 624.2 C189.5 624.2 190.6 622.6 190.9 622.2"/></g>
<path class="l" d="M396.6 616.0 L409.5 616.0"/>
<path class="d" d="M414.4 560.0 L414.4 599.0"/>
<g><path class="f" d="M408.4 628.7 L408.9 632.1 L410.8 633.4 L417.1 633.4 L418.9 632.1 L419.5 628.7Z"/><path class="lt" d="M409.2 630.8 L418.9 630.8"/><path class="f" d="M406.3 625.0 C406.4 624.3 408.3 622.7 409.7 622.4 C411.2 622.1 417.2 622.1 418.7 622.4 C420.2 622.7 422.6 624.3 422.6 625.0 C422.7 625.7 420.5 628.3 418.9 628.7 C417.4 629.1 410.4 629.1 408.9 628.7 C407.5 628.3 406.2 625.7 406.3 625.0Z"/><path class="f" d="M410.3 624.5 C410.2 623.1 409.5 612.5 409.6 610.8 C409.8 609.1 411.6 608.4 411.8 607.6 C412.1 606.9 412.1 603.9 412.4 603.4 C412.6 602.9 413.8 602.4 414.2 602.4 C414.6 602.4 415.8 602.9 416.1 603.4 C416.3 603.9 416.3 606.9 416.6 607.6 C416.8 608.4 418.5 609.1 418.7 610.8 C418.8 612.5 418.2 623.1 418.2 624.5Z"/><path class="lt" d="M412.1 607.4 L416.3 607.4"/><path class="lt" d="M411.3 625.5 L417.1 625.5"/><path class="l" d="M415.8 612.4 C415.4 612.3 414.0 611.2 413.4 611.8 C412.9 612.5 412.4 614.7 412.4 616.1 C412.3 617.4 412.6 619.1 413.2 619.7 C413.7 620.4 415.1 620.0 415.5 620.0"/></g>
<path class="l" d="M412.4 676.8 L427.0 676.8"/>
<g><path class="f" d="M427.1 677.9 C427.1 676.0 428.0 673.9 429.2 673.1 C430.4 672.2 433.2 671.8 434.5 672.6 C435.7 673.4 436.6 676.1 436.6 677.9 C436.6 679.7 435.7 682.5 434.5 683.6 C433.2 684.6 430.4 685.2 429.2 684.2 C428.0 683.3 427.1 679.8 427.1 677.9Z"/><path class="lt" d="M431.9 673.3 L431.9 683.8"/><path class="f" d="M436.6 675.8 L442.9 677.9 L453.4 682.7 L442.9 683.2 L436.6 681.1Z"/><path class="lt" d="M439.7 676.8 L439.3 682.1"/><path class="lt" d="M443.3 678.1 L442.9 683.2"/><path class="lt" d="M447.1 680.0 L446.7 683.2"/></g>
<path class="d" d="M455.5 684.2 L481.0 691.4"/>
<path class="d" d="M503.0 698.0 L517.0 701.3"/>
<path class="l" d="M499.7 735.5 L499.7 762.0"/>
<g><path class="f" d="M487.5 691.6 C487.2 688.8 488.1 689.5 488.8 689.1 C489.5 688.6 492.6 687.4 493.4 687.4 C494.2 687.4 494.7 686.6 495.5 689.1 C496.4 691.5 499.4 704.2 500.6 708.4 C501.8 712.6 505.2 722.6 505.6 725.3 C506.1 728.0 505.3 730.4 504.4 731.6 C503.4 732.8 498.8 735.7 497.6 735.8 C496.5 735.9 495.4 735.3 494.7 732.6 C494.0 729.9 492.6 717.4 491.7 712.6 C490.9 707.8 487.9 694.3 487.5 691.6Z"/><path class="lt" d="M490.3 691.6 C491.0 695.3 493.3 706.8 494.5 713.7 C495.6 720.5 496.8 729.5 497.2 732.6"/><path class="lt" d="M493.4 693.7 L494.9 697.5"/><path class="lt" d="M500.2 721.1 L501.4 725.7"/></g>
<path class="l" d="M525.4 665.5 L525.4 694.7"/>
<g><path class="f" d="M517.6 698.3 L520.4 694.9 L533.0 694.7 L535.5 698.9 L535.1 707.4 L521.2 710.5 L518.1 706.7Z"/><path class="l" d="M517.6 698.3 L520.8 700.0 L535.5 698.9"/><path class="l" d="M520.8 700.0 L521.2 710.5"/><path class="lt" d="M523.9 701.7 L529.6 701.3 L529.6 705.9 L524.2 706.5Z"/></g>
<rect class="box" x="411.5" y="369.3" width="77" height="26.7"/>
<g style="filter:grayscale(1)">
<text class="b" text-anchor="middle" x="349.6 360.7 371.8 382.9 394.0 405.2" y="89.7">52151E</text>
<text class="b" text-anchor="middle" x="95.6 106.7 117.8 128.9 140.0" y="193.7">52023</text>
<text class="b" text-anchor="middle" x="183.7 195.1 206.6 218.0 229.5" y="275.4">52615</text>
<text class="b" text-anchor="middle" x="248.6 259.7 270.8 281.9 293.0 304.2" y="314.2">52187B</text>
<g><text class="b" text-anchor="middle" x="99.6 110.7 121.8 132.9 144.0 155.2 166.3" y="341.2">52185B </text><text class="b" text-anchor="middle" transform="scale(0.880,1)" x="194.8 204.4 217.0 226.1" y="341.2">(RH)</text></g>
<g><text class="b" text-anchor="middle" x="99.6 110.7 121.8 132.9 144.0 155.2 166.3" y="359.7">52186B </text><text class="b" text-anchor="middle" transform="scale(0.880,1)" x="194.8 204.4 217.0 226.1" y="359.7">(LH)</text></g>
<g><text class="b" text-anchor="middle" x="97.1 108.2 119.3 130.4 141.5 152.7 163.8" y="403.8">52197A </text><text class="b" text-anchor="middle" transform="scale(0.880,1)" x="191.9 201.5 214.2 223.3" y="403.8">(RH)</text></g>
<g><text class="b" text-anchor="middle" x="97.1 108.2 119.3 130.4 141.5 152.7 163.8" y="422.2">52197B </text><text class="b" text-anchor="middle" transform="scale(0.880,1)" x="191.9 201.5 214.2 223.3" y="422.2">(LH)</text></g>
<text class="b" text-anchor="middle" x="98.6 109.7 120.8 131.9 143.0" y="485.7">52159</text>
<g><text class="b" text-anchor="middle" x="631.4 642.5 653.6 664.7 675.8 687.0" y="327.6">52581 </text><text class="b" text-anchor="middle" transform="scale(0.880,1)" x="786.4 796.1 808.7 817.8" y="327.6">(RH)</text></g>
<g><text class="b" text-anchor="middle" x="631.4 642.5 653.6 664.7 675.8 687.0" y="345.7">52582 </text><text class="b" text-anchor="middle" transform="scale(0.880,1)" x="786.4 796.1 808.7 817.8" y="345.7">(LH)</text></g>
<text class="b" text-anchor="middle" x="425.6 436.7 447.8 458.9 470.0" y="389.2">52791</text>
<text class="b" text-anchor="middle" x="691.1 702.2 713.3 724.4 735.5" y="443.7">52599</text>
<g><text class="b" text-anchor="middle" x="286.5 297.8 309.1 320.4 331.7 343.0 354.3" y="614.4">52161A </text><text class="b" text-anchor="middle" transform="scale(0.880,1)" x="408.6 418.3 431.2 440.4" y="614.4">(RH)</text></g>
<g><text class="b" text-anchor="middle" x="286.5 297.8 309.1 320.4 331.7 343.0 354.3" y="632.9">52162A </text><text class="b" text-anchor="middle" transform="scale(0.880,1)" x="408.6 418.3 431.2 440.4" y="632.9">(LH)</text></g>
<g><text class="b" text-anchor="middle" x="470.6 481.7 492.8 503.9 515.0 526.2 537.3" y="777.7">52581A </text><text class="b" text-anchor="middle" transform="scale(0.880,1)" x="616.4 626.0 638.6 647.7" y="777.7">(RH)</text></g>
<g><text class="b" text-anchor="middle" x="470.6 481.7 492.8 503.9 515.0 526.2 537.3" y="795.7">52582A </text><text class="b" text-anchor="middle" transform="scale(0.880,1)" x="616.4 626.0 638.6 647.7" y="795.7">(LH)</text></g>
<g><text class="s" text-anchor="middle" x="512.9 522.4 531.8 541.3 550.8" y="152.7">90179</text><text class="s" text-anchor="middle" transform="translate(560.3,151.6) scale(2.20,1)">-</text><text class="s" text-anchor="middle" x="569.8 579.2 588.7 598.2 607.7 617.2 621.5 628.7 635.6" y="152.7">08175 (6)</text></g>
<text class="s" text-anchor="middle" transform="scale(0.860,1)" x="585.1 596.1 607.1 618.2 629.2 640.2 651.2 662.3" y="267.6">REFER TO</text>
<g><text class="s" text-anchor="middle" transform="scale(0.930,1)" x="541.1 551.3 561.4 571.6 581.8 592.0" y="282.8">FIG 81</text><text class="s" text-anchor="middle" transform="translate(560.1,281.7) scale(2.20,1)">-</text><text class="s" text-anchor="middle" transform="scale(0.930,1)" x="612.4 622.6" y="282.8">15</text></g>
<g><text class="s" text-anchor="middle" x="448.9 458.4 467.8 477.3 486.8" y="317.7">90189</text><text class="s" text-anchor="middle" transform="translate(496.3,316.6) scale(2.20,1)">-</text><text class="s" text-anchor="middle" x="505.8 515.2 524.7 534.2 543.7 553.2 557.5 564.7 571.6" y="317.7">04130 (2)</text></g>
<g><text class="s" text-anchor="middle" x="354.9 364.4 373.8 383.3 392.8" y="357.2">90179</text><text class="s" text-anchor="middle" transform="translate(402.3,356.1) scale(2.20,1)">-</text><text class="s" text-anchor="middle" x="411.8 421.2 430.7 440.2 449.7 459.2 463.5 470.7 477.6" y="357.2">06026 (4)</text></g>
<g><text class="s" text-anchor="middle" x="262.9 272.4 281.8 291.3 300.8" y="415.2">90430</text><text class="s" text-anchor="middle" transform="translate(310.3,414.1) scale(2.20,1)">-</text><text class="s" text-anchor="middle" x="319.8 329.2 338.7 348.2 357.7 367.2 371.5 378.7 385.6" y="415.2">05013 (4)</text></g>
<g><text class="s" text-anchor="middle" x="289.9 299.4 308.8 318.3 327.8" y="452.7">90159</text><text class="s" text-anchor="middle" transform="translate(337.3,451.6) scale(2.20,1)">-</text><text class="s" text-anchor="middle" x="346.8 356.2 365.7 375.2 384.7 394.2 398.5 405.7 412.6" y="452.7">60431 (2)</text></g>
<g><text class="s" text-anchor="middle" x="624.4 633.9 643.3 652.8 662.3" y="505.7">90164</text><text class="s" text-anchor="middle" transform="translate(671.8,504.6) scale(2.20,1)">-</text><text class="s" text-anchor="middle" x="681.3 690.7 700.2 709.7 719.2 728.7 733.0 740.2 747.1" y="505.7">40096 (2)</text></g>
<g><text class="s" text-anchor="middle" x="26.4 35.9 45.3 54.8 64.3" y="572.7">90189</text><text class="s" text-anchor="middle" transform="translate(73.8,571.6) scale(2.20,1)">-</text><text class="s" text-anchor="middle" x="83.3 92.7 102.2 111.7 121.2 130.7 135.0 142.2 149.1" y="572.7">06066 (2)</text></g>
<text class="s" text-anchor="middle" transform="scale(0.860,1)" x="81.8 92.9 103.9 114.9 125.9 137.0 148.0 159.0" y="630.7">REFER TO</text>
<g><text class="s" text-anchor="middle" transform="scale(0.930,1)" x="75.7 85.9 96.1 106.3 116.5 126.7" y="646.2">FIG 76</text><text class="s" text-anchor="middle" transform="translate(127.3,645.1) scale(2.20,1)">-</text><text class="s" text-anchor="middle" transform="scale(0.930,1)" x="147.0 157.2" y="646.2">01</text></g>
<g><text class="s" text-anchor="middle" x="280.4 289.9 299.3 308.8 318.3" y="683.5">90159</text><text class="s" text-anchor="middle" transform="translate(327.8,682.4) scale(2.20,1)">-</text><text class="s" text-anchor="middle" x="337.3 346.7 356.2 365.7 375.2 384.7 389.0 396.2 403.1" y="683.5">60422 (4)</text></g>
<text class="s" text-anchor="middle" transform="scale(0.860,1)" x="577.2 588.2 599.2 610.3 621.3 632.3 643.3 654.4" y="646.7">REFER TO</text>
<g><text class="s" text-anchor="middle" transform="scale(0.930,1)" x="533.7 543.9 554.1 564.3 574.5 584.7" y="662.2">FIG 76</text><text class="s" text-anchor="middle" transform="translate(553.3,661.1) scale(2.20,1)">-</text><text class="s" text-anchor="middle" transform="scale(0.930,1)" x="605.1 615.3" y="662.2">01</text></g>
<text class="s" text-anchor="middle" transform="scale(0.860,1)" x="714.4 725.4 736.4 747.5 758.5 769.5 780.5 791.6" y="585.1">REFER TO</text>
<g><text class="s" text-anchor="middle" transform="scale(0.930,1)" x="660.6 670.8 681.0 691.2 701.4 711.6" y="600.8">FIG 81</text><text class="s" text-anchor="middle" transform="translate(671.3,599.7) scale(2.20,1)">-</text><text class="s" text-anchor="middle" transform="scale(0.930,1)" x="732.0 742.2" y="600.8">15</text></g>
<text class="s" text-anchor="middle" transform="scale(0.860,1)" x="715.9 724.3 735.3 746.3 757.4 768.4 779.4 790.4 801.4 812.5 823.5 828.6 836.9 848.0 855.9 861.4 866.0" y="616.1">(PNC 81910 (RH) )</text>
<text class="s" text-anchor="middle" transform="scale(0.860,1)" x="715.9 724.3 735.3 746.3 757.4 768.4 779.4 790.4 801.4 812.5 823.5 828.6 836.9 848.0 855.9 861.4 866.0" y="631.2">(PNC 81920 (LH) )</text>
<g><text class="b" text-anchor="middle" x="637.2 648.6 660.1 671.5 683.0 694.4" y="1084.2">520632</text><text class="b" text-anchor="middle" transform="translate(705.8,1083.1) scale(2.70,1)">-</text><text class="b" text-anchor="middle" x="717.3" y="1084.2">B</text></g>
<text class="s" style="font-size:15.3px" text-anchor="middle" x="671" y="461.9">B</text>
</g>
</svg>
</body></html>
